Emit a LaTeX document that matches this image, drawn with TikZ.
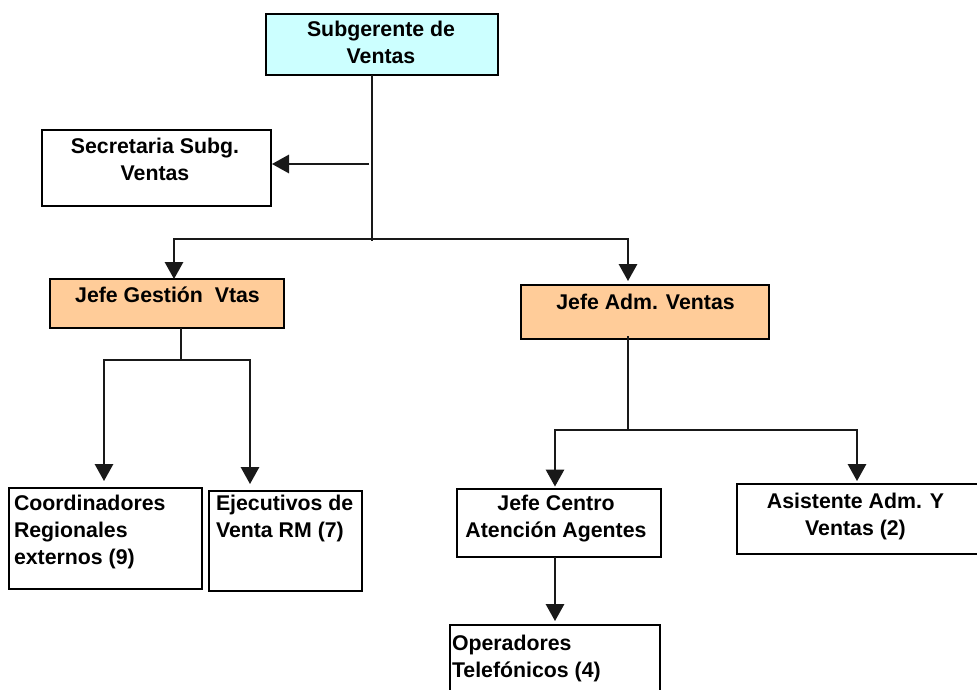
\documentclass[tikz,border=0pt]{standalone}
\usepackage{fontspec}
\setmainfont{Liberation Sans}
\usetikzlibrary{arrows.meta}

\definecolor{headfill}{HTML}{CCFFFF}
\definecolor{chieffill}{HTML}{FFCC99}

\tikzset{
  box/.style={draw=black, line width=1.5pt, rectangle, inner sep=0pt, outer sep=0pt},
  txt/.style={inner sep=0pt, outer sep=0pt, font=\fontsize{21.3}{27}\selectfont\bfseries},
  ctxt/.style={txt, align=center, anchor=north},
  ltxt/.style={txt, align=left, anchor=north west},
  conn/.style={line width=1.5pt, draw=black!90},
  arr/.style={conn, -{Triangle[width=18.5pt,length=17pt]}},
}

\begin{document}
\begin{tikzpicture}[x=1pt, y=-1pt]
\useasboundingbox (0,0) rectangle (977,690);

% boxes
\node[box, fill=headfill, minimum width=232, minimum height=61] (sub) at (382,44.5) {};
\node[box, minimum width=229, minimum height=76] (sec) at (156.5,168) {};
\node[box, fill=chieffill, minimum width=234, minimum height=49] (jg) at (167,303.5) {};
\node[box, fill=chieffill, minimum width=248, minimum height=54] (ja) at (645,312) {};
\node[box, minimum width=193, minimum height=101] (coord) at (105.5,538.5) {};
\node[box, minimum width=153, minimum height=100] (ejec) at (285.5,541) {};
\node[box, minimum width=204, minimum height=68] (jc) at (559,523) {};
\node[box, minimum width=248, minimum height=70] (asis) at (861,519) {};
\node[box, minimum width=210, minimum height=75] (oper) at (555,662.5) {};

% labels
\node[ctxt] (tsub) at (381,21.5) {Subgerente de\\Ventas};
\node[ctxt] (tsec) at (155,137.7) {Secretaria Subg.\\Ventas};
\node[ctxt] (tjg) at (167.5,286.5) {Jefe Gestión\ \ Vtas};
\node[ctxt] (tja) at (645.5,293.7) {Jefe Adm. Ventas};
\node[ltxt] (tcoord) at (14,494.7) {Coordinadores\\Regionales\\externos (9)};
\node[ltxt] (tejec) at (216,494.7) {Ejecutivos de\\Venta RM (7)};
\node[ctxt] (tjc) at (556,494.7) {Jefe Centro\\Atención Agentes};
\node[ctxt] (tasis) at (855.5,492.7) {Asistente Adm. Y\\Ventas (2)};
\node[ltxt] (toper) at (452,634.7) {Operadores\\Telefónicos (4)};

% junction points
\coordinate (hub) at (372,239);
\coordinate (secin) at (369,164);
\coordinate (hubL) at (181,360);
\coordinate (hubR) at (628,430);

% top level
\draw[conn] (sub.south -| hub) -- ([yshift=-2pt]hub);
\draw[arr, shorten >=1pt] (secin) -- (sec.east |- secin);
\draw[arr] (hub) -| ([xshift=7pt]jg.north);
\draw[arr, shorten >=4pt] (hub) -| ([xshift=-17pt]ja.north);

% Jefe Gestion branch
\draw[conn] (jg.south -| hubL) -- (hubL);
\draw[arr, shorten >=7pt] (hubL) -| ([xshift=-1.5pt]coord.north);
\draw[arr, shorten >=7pt] (hubL) -| ([xshift=-35.5pt]ejec.north);

% Jefe Adm. branch
\draw[conn] ([yshift=3pt]ja.south -| hubR) -- (hubR);
\draw[arr, shorten >=2.5pt] (hubR) -| ([xshift=-4pt]jc.north);
\draw[arr, shorten >=3pt] (hubR) -| ([xshift=-4pt]asis.north);
\draw[arr, shorten >=4pt] (jc.south -| oper.north) -- (oper.north);
\end{tikzpicture}
\end{document}
